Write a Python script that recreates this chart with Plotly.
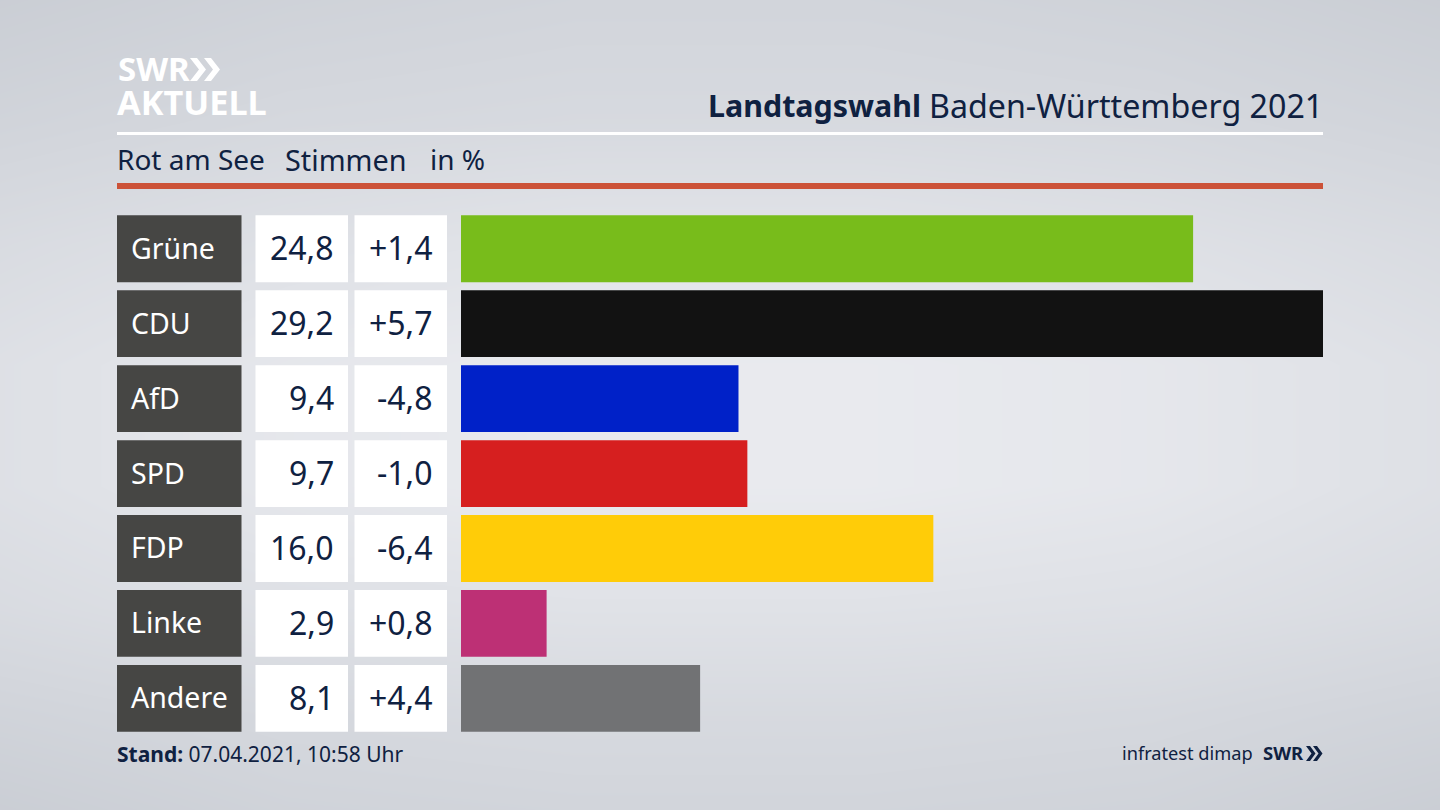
import plotly.graph_objects as go

parties = ["Grüne", "CDU", "AfD", "SPD", "FDP", "Linke", "Andere"]
values = [24.8, 29.2, 9.4, 9.7, 16.0, 2.9, 8.1]
changes = [1.4, 5.7, -4.8, -1.0, -6.4, 0.8, 4.4]
colors = ["#78bc1b", "#121212", "#0021c8", "#d61f1f", "#ffcc08", "#bd3075", "#717274"]

bg_x = [0, 0.2, 0.4, 0.6, 0.8, 1]
bg_y = [0, 0.12, 0.25, 0.4, 0.55, 0.7, 0.85, 1]
bg_z = [
    [200, 206, 208, 208, 206, 200],
    [207, 212, 214, 214, 212, 207],
    [216, 222, 224, 224, 222, 216],
    [222, 230, 234, 234, 230, 222],
    [222, 230, 234, 234, 230, 222],
    [216, 222, 226, 226, 222, 216],
    [207, 212, 214, 214, 212, 207],
    [200, 205, 208, 208, 205, 200],
]

INK = "#0f2141"
FONT = "Noto Sans"
W, H = 1440, 810


def px(x):
    return x / W


def py(y):
    return 1 - y / H


def fmt(v, sign=False):
    s = f"{v:+.1f}" if sign else f"{v:.1f}"
    return s.replace(".", ",")


fig = go.Figure()
fig.add_trace(go.Heatmap(
    x=bg_x, y=bg_y, z=bg_z, zsmooth="best", showscale=False, hoverinfo="skip",
    zmin=195, zmax=240,
    colorscale=[[0, "#c6cad1"], [1, "#eeeff3"]],
    xaxis="x", yaxis="y",
))
fig.add_trace(go.Bar(
    x=values, y=parties, orientation="h", marker=dict(color=colors, line=dict(width=0)),
    xaxis="x2", yaxis="y2", showlegend=False, hoverinfo="skip",
))

shapes, ann = [], []


def text(x, y, s, size, anchor="left", color=INK, yref="paper"):
    ann.append(dict(x=x, y=y, xref="paper", yref=yref, text=s, showarrow=False,
                    xanchor=anchor, yanchor="middle", align=anchor,
                    xshift=-2 if anchor == "left" else 2, yshift=1,
                    font=dict(family=FONT, size=size, color=color)))


def rect(x0, y0, x1, y1, color):
    shapes.append(dict(type="rect", xref="paper", yref="paper", x0=px(x0), x1=px(x1),
                       y0=py(y0), y1=py(y1), fillcolor=color, line_width=0, layer="above"))


def chevrons(x0, y0, y1, w, d, step, color):
    ym = (y0 + y1) / 2
    for k in range(2):
        a = x0 + k * step
        pts = [(a, y0), (a + w, y0), (a + w + d, ym), (a + w, y1), (a, y1), (a + d, ym)]
        path = "M " + " L ".join(f"{px(p)},{py(q)}" for p, q in pts) + " Z"
        shapes.append(dict(type="path", xref="paper", yref="paper", path=path,
                           fillcolor=color, line_width=0, layer="above"))


for i, p in enumerate(parties):
    half = 0.446
    for x0, x1, c in [(117, 241.5, "#464644"), (255.5, 348, "#ffffff"), (354.5, 447, "#ffffff")]:
        shapes.append(dict(type="rect", xref="paper", yref="y2", x0=px(x0), x1=px(x1),
                           y0=i - half, y1=i + half, fillcolor=c, line_width=0, layer="above"))
    text(px(131), i, p, 28.5, "left", "#ffffff", "y2")
    text(px(333.5), i, fmt(values[i]), 32, "right", INK, "y2")
    text(px(433), i, fmt(changes[i], True), 32, "right", INK, "y2")

rect(117, 132, 1323, 135, "#ffffff")
rect(117, 183, 1323, 189, "#cc5238")

text(px(118), py(70), "<b>SWR</b>", 33, "left", "#ffffff")
text(px(117), py(103), "<b>AKTUELL</b>", 34.3, "left", "#ffffff")
chevrons(190, 58, 81, 7, 9, 14, "#ffffff")

text(px(921), py(106), "<b>Landtagswahl</b>", 30.4, "right")
text(px(1323), py(106), "Baden-Württemberg 2021", 32.2, "right")
text(px(117), py(160), "Rot am See", 28)
text(px(285), py(160), "Stimmen", 28.8)
text(px(429.5), py(160), "in %", 28)

text(px(117), py(755), "<b>Stand:</b> 07.04.2021, 10:58 Uhr", 21)
text(px(1122), py(754), "infratest dimap", 18.2)
text(px(1263), py(753), "<b>SWR</b>", 18.5)
chevrons(1306, 746, 761, 4, 5.5, 7, INK)

hidden = dict(visible=False, showgrid=False, zeroline=False, fixedrange=True)
fig.update_layout(
    width=W, height=H, margin=dict(l=0, r=0, t=0, b=0, pad=0),
    paper_bgcolor="#dfe1e6", plot_bgcolor="rgba(0,0,0,0)", showlegend=False,
    bargap=0.108,
    xaxis=dict(hidden, domain=[0, 1], range=[0, 1]),
    yaxis=dict(hidden, domain=[0, 1], range=[0, 1]),
    xaxis2=dict(hidden, domain=[px(461), px(1323)], range=[0, 29.2], anchor="y2"),
    yaxis2=dict(hidden, domain=[py(735.8), py(211.3)], range=[6.5, -0.5], anchor="x2",
                type="category", categoryorder="array", categoryarray=parties),
    shapes=shapes, annotations=ann,
)
fig.write_html("out.html", post_script="document.body.style.margin='0';",
               config={"displayModeBar": False})
